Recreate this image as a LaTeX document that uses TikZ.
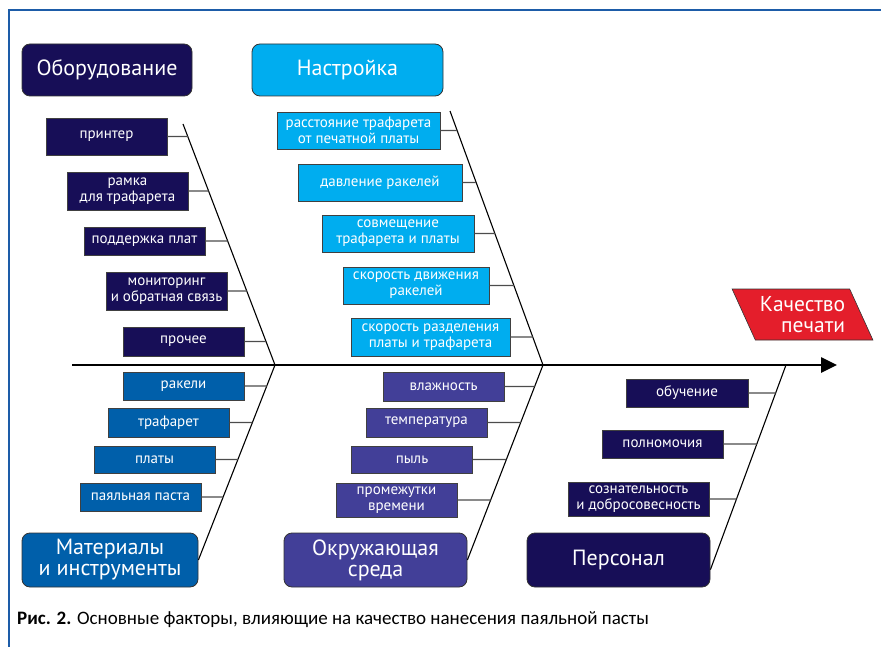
\documentclass[tikz,border=0pt]{standalone}
\usepackage{fontspec}
\setmainfont{PT Sans}
\newfontfamily\capfont{Carlito}
\usetikzlibrary{arrows.meta,shapes.geometric}

\definecolor{navyc}{HTML}{170E57}
\definecolor{setc}{HTML}{00ADEF}
\definecolor{matc}{HTML}{005FAA}
\definecolor{envc}{HTML}{423F98}
\definecolor{effc}{HTML}{E41E2B}
\definecolor{framec}{HTML}{1D5CA8}

\begin{document}
\begin{tikzpicture}[
    x=1pt,y=-1pt,
    cat/.style={rounded corners=8pt,draw=black!80,line width=.8pt,
        text=white,align=center,inner sep=0pt,
        font={\fontsize{22}{21}\selectfont}},
    sub/.style={draw=black!75,line width=.8pt,text=white,align=center,
        inner sep=0pt,minimum width=121pt,minimum height=28pt,
        font={\fontsize{15}{16}\selectfont}},
    effect/.style={trapezium,trapezium left angle=120,
        trapezium right angle=60,trapezium stretches=true,
        fill=effc,draw=black!80,line width=.6pt,text=white,align=right,
        minimum width=141pt,minimum height=51pt,inner sep=0pt,
        font={\fontsize{21.5}{21}\selectfont}},
    spine/.style={-{Triangle[length=16pt,width=15pt]},line width=2.6pt},
    bone/.style={black,line width=1.1pt},
    twig/.style={black!70,line width=1.2pt},
    ]
    \useasboundingbox (0,0) rectangle (881,647);

    % Frame
    \draw[framec,line width=2pt] (9,647) -- (9,10) -- (881,10);

    % Spine
    \coordinate (tail) at (72,365);
    \coordinate (head) at (837,365);
    \coordinate (j1) at (275,365);
    \coordinate (j2) at (543,365);
    \coordinate (j3) at (786,365);
    \draw[spine] (tail) -- (head);

    % Effect
    \node[effect] (quality) at (802.5,314.5) {Качество\\печати};

    % Categories
    \node[cat,fill=navyc,minimum width=170pt,minimum height=52pt]
        (equip) at (107,70) {Оборудование};
    \node[cat,fill=setc,minimum width=191pt,minimum height=52pt]
        (setup) at (347.5,70) {Настройка};
    \node[cat,fill=matc,minimum width=176pt,minimum height=54pt]
        (mater) at (110,560) {Материалы\\и инструменты};
    \node[cat,fill=envc,minimum width=183pt,minimum height=54pt]
        (envir) at (375.5,560) {Окружающая\\среда};
    \node[cat,fill=navyc,minimum width=183pt,minimum height=54pt]
        (staff) at (618.5,560) {Персонал};

    % Bones
    \coordinate (eqtop) at (183,124);
    \coordinate (sttop) at (450,111);
    \draw[bone] (eqtop) -- (j1);
    \draw[bone] (sttop) -- (j2);
    \draw[bone] (j1) -- (mater.east);
    \draw[bone] (j2) -- (envir.east);
    \draw[bone] (j3) -- (staff.-6);

    % Equipment
    \node[sub,fill=navyc,minimum height=37pt] (printer) at (106.5,136.5) {принтер};
    \node[sub,fill=navyc,minimum height=38pt] (frame) at (127.5,191) {рамка\\для трафарета};
    \node[sub,fill=navyc] (support) at (144.5,241) {поддержка плат};
    \node[sub,fill=navyc,minimum height=38pt] (monitor) at (166.5,291) {мониторинг\\и обратная связь};
    \node[sub,fill=navyc,minimum height=29pt] (other) at (183.5,341.5) {прочее};
    \draw[twig] (printer.east) -- (intersection of eqtop--j1 and printer.east--printer.west);
    \draw[twig] (frame.east) -- (intersection of eqtop--j1 and frame.east--frame.west);
    \draw[twig] (support.east) -- (intersection of eqtop--j1 and support.east--support.west);
    \draw[twig] (monitor.east) -- (intersection of eqtop--j1 and monitor.east--monitor.west);
    \draw[twig] (other.east) -- (intersection of eqtop--j1 and other.east--other.west);

    % Setup
    \node[sub,fill=setc,minimum width=163pt,minimum height=37pt] (gap) at (358.5,130.5) {расстояние трафарета\\от печатной платы};
    \node[sub,fill=setc,minimum width=164pt,minimum height=37pt] (press) at (380,182.5) {давление ракелей};
    \node[sub,fill=setc,minimum width=152pt,minimum height=37pt] (align) at (398,233.5) {совмещение\\трафарета и платы};
    \node[sub,fill=setc,minimum width=146pt,minimum height=37pt] (speed) at (416,285.5) {скорость движения\\ракелей};
    \node[sub,fill=setc,minimum width=159pt,minimum height=38pt] (release) at (430.5,337) {скорость разделения\\платы и трафарета};
    \draw[twig] (gap.east) -- (intersection of sttop--j2 and gap.east--gap.west);
    \draw[twig] (press.east) -- (intersection of sttop--j2 and press.east--press.west);
    \draw[twig] (align.east) -- (intersection of sttop--j2 and align.east--align.west);
    \draw[twig] (speed.east) -- (intersection of sttop--j2 and speed.east--speed.west);
    \draw[twig] (release.east) -- (intersection of sttop--j2 and release.east--release.west);

    % Materials
    \node[sub,fill=matc] (squeegee) at (183.5,386) {ракели};
    \node[sub,fill=matc,minimum height=29pt] (stencil) at (168.5,422.5) {трафарет};
    \node[sub,fill=matc,minimum height=27pt] (boards) at (154.5,459.5) {платы};
    \node[sub,fill=matc] (paste) at (140.5,497) {паяльная паста};
    \draw[twig] (squeegee.east) -- (intersection of j1--mater.east and squeegee.east--squeegee.west);
    \draw[twig] (stencil.east) -- (intersection of j1--mater.east and stencil.east--stencil.west);
    \draw[twig] (boards.east) -- (intersection of j1--mater.east and boards.east--boards.west);
    \draw[twig] (paste.east) -- (intersection of j1--mater.east and paste.east--paste.west);

    % Environment
    \node[sub,fill=envc,minimum height=29pt] (humid) at (443.5,386.5) {влажность};
    \node[sub,fill=envc,minimum height=29pt] (temp) at (426.5,422.5) {температура};
    \node[sub,fill=envc,minimum height=27pt] (dust) at (412,459.5) {пыль};
    \node[sub,fill=envc,minimum height=34pt] (time) at (396.5,500) {промежутки\\времени};
    \draw[twig] (humid.east) -- (intersection of j2--envir.east and humid.east--humid.west);
    \draw[twig] (temp.east) -- (intersection of j2--envir.east and temp.east--temp.west);
    \draw[twig] (dust.east) -- (intersection of j2--envir.east and dust.east--dust.west);
    \draw[twig] (time.east) -- (intersection of j2--envir.east and time.east--time.west);

    % Staff
    \node[sub,fill=navyc,minimum width=122pt] (train) at (687,393) {обучение};
    \node[sub,fill=navyc] (auth) at (662.5,444) {полномочия};
    \node[sub,fill=navyc,minimum width=141pt,minimum height=34pt] (consc) at (638.5,499) {сознательность\\и добросовесность};
    \draw[twig] (train.east) -- (intersection of j3--staff.-6 and train.east--train.west);
    \draw[twig] (auth.east) -- (intersection of j3--staff.-6 and auth.east--auth.west);
    \draw[twig] (consc.east) -- (intersection of j3--staff.-6 and consc.east--consc.west);

    % Caption
    \node[anchor=base west,inner sep=0pt,font={\capfont\fontsize{19}{19}\selectfont}]
        (caption) at (17,624) {\textbf{Рис. 2.} Основные факторы, влияющие на качество нанесения паяльной пасты};
\end{tikzpicture}
\end{document}
